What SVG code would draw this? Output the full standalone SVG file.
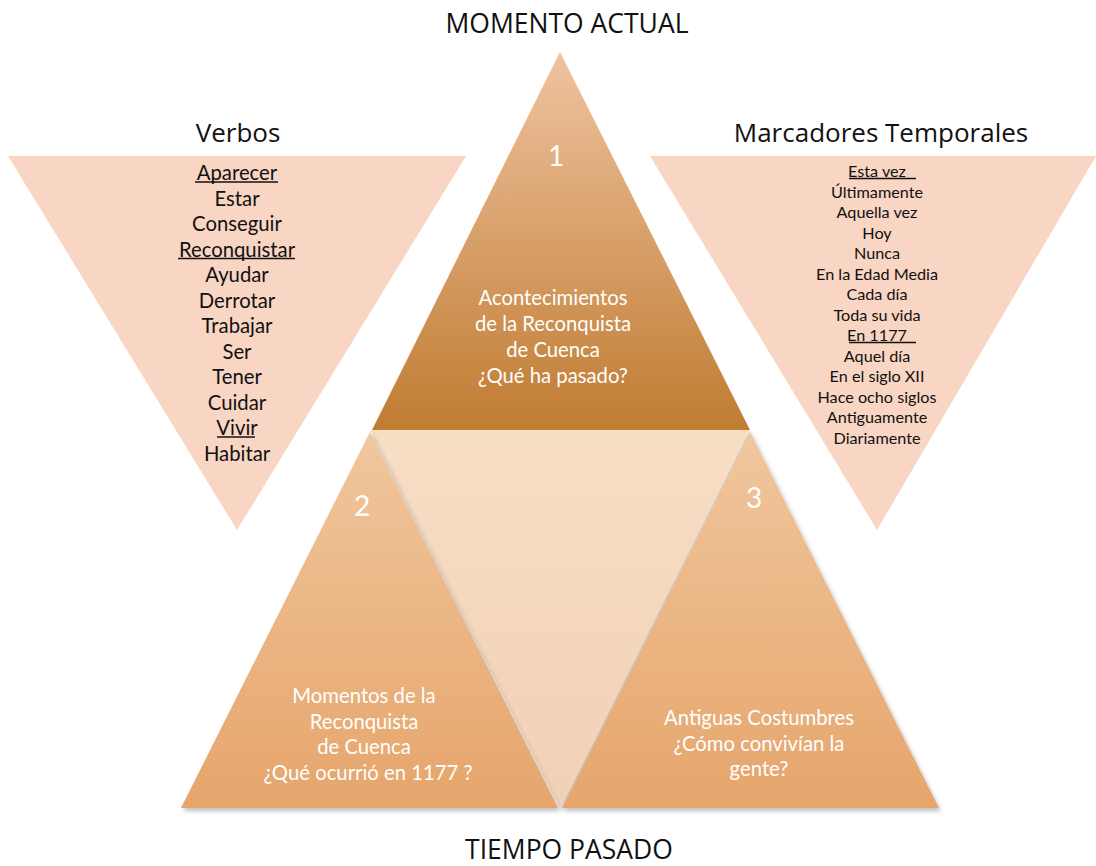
<svg xmlns="http://www.w3.org/2000/svg" width="1096" height="866" viewBox="0 0 1096 866">
<defs>
<linearGradient id="g1" x1="0" y1="0" x2="0" y2="1"><stop offset="0" stop-color="#efc3a0"/><stop offset="1" stop-color="#c07c32"/></linearGradient>
<linearGradient id="g2" x1="0" y1="0" x2="0" y2="1"><stop offset="0" stop-color="#f0c79e"/><stop offset="1" stop-color="#e6a56b"/></linearGradient>
<linearGradient id="gm" x1="0" y1="0" x2="0" y2="1"><stop offset="0" stop-color="#f6dec5"/><stop offset="1" stop-color="#f2d0b6"/></linearGradient>
<filter id="sh" x="-10%" y="-10%" width="120%" height="120%"><feDropShadow dx="2" dy="3" stdDeviation="2" flood-color="#000" flood-opacity="0.25"/></filter>
<style>
.t{font-family:Lato,"Open Sans",sans-serif;text-anchor:middle}
.title{font-family:"Open Sans",sans-serif;font-size:26px;fill:#111}
.cap{font-family:"Open Sans",sans-serif;font-size:26.5px;fill:#111}
.vb{font-size:20.3px;fill:#111}
.mk{font-size:16.2px;fill:#111}
.w{font-size:20.3px;fill:#fff}
.n{font-size:28px;fill:#fff}
.ul{stroke:#111;stroke-width:1.3}
</style>
</defs>
<rect width="1096" height="866" fill="#fff"/>
<g id="verbos">
<polygon points="8,156 466,156 237,530" fill="#f9d5c3"/>
<text class="t title" x="238" y="142">Verbos</text>
<g class="t vb">
<text x="237" y="180">Aparecer</text>
<text x="237" y="205.5">Estar</text>
<text x="237" y="231">Conseguir</text>
<text x="237" y="256.5">Reconquistar</text>
<text x="237" y="282">Ayudar</text>
<text x="237" y="307.5">Derrotar</text>
<text x="237" y="333">Trabajar</text>
<text x="237" y="358.5">Ser</text>
<text x="237" y="384">Tener</text>
<text x="237" y="409.5">Cuidar</text>
<text x="237" y="435">Vivir</text>
<text x="237" y="460.5">Habitar</text>
</g>
<line class="ul" x1="195" y1="182" x2="278" y2="182"/>
<line class="ul" x1="178" y1="258.5" x2="295" y2="258.5"/>
<line class="ul" x1="217" y1="437" x2="255" y2="437"/>
</g>
<g id="marcadores">
<polygon points="650,156 1096,156 877,530" fill="#f9d5c3"/>
<text class="t title" x="881" y="142">Marcadores Temporales</text>
<g class="t mk">
<text x="877" y="177">Esta vez</text>
<text x="877" y="197.5">Últimamente</text>
<text x="877" y="218">Aquella vez</text>
<text x="877" y="238.5">Hoy</text>
<text x="877" y="259">Nunca</text>
<text x="877" y="279.5">En la Edad Media</text>
<text x="877" y="300">Cada día</text>
<text x="877" y="320.5">Toda su vida</text>
<text x="877" y="341">En 1177</text>
<text x="877" y="361.5">Aquel día</text>
<text x="877" y="382">En el siglo XII</text>
<text x="877" y="402.5">Hace ocho siglos</text>
<text x="877" y="423">Antiguamente</text>
<text x="877" y="443.5">Diariamente</text>
</g>
<line class="ul" x1="849" y1="178.5" x2="916" y2="178.5"/>
<line class="ul" x1="849" y1="342.5" x2="916" y2="342.5"/>
</g>
<g id="centro">
<polygon points="370,430 750,430 560,808" fill="url(#gm)" filter="url(#sh)"/>
</g>
<g id="nodo2">
<polygon points="370,432 558,808 181,808" fill="url(#g2)" filter="url(#sh)"/>
<text class="t n" x="362" y="516">2</text>
<g class="t w">
<text x="364" y="703">Momentos de la</text>
<text x="364" y="729">Reconquista</text>
<text x="364" y="754">de Cuenca</text>
<text x="368" y="780">¿Qué ocurrió en 1177 ?</text>
</g>
</g>
<g id="nodo3">
<polygon points="750,432 939,808 562,808" fill="url(#g2)" filter="url(#sh)"/>
<text class="t n" x="754" y="508">3</text>
<g class="t w">
<text x="759" y="725">Antiguas Costumbres</text>
<text x="759" y="750.5">¿Cómo convivían la</text>
<text x="759" y="776">gente?</text>
</g>
</g>
<g id="nodo1">
<polygon points="560,52 750,430 372,430" fill="url(#g1)"/>
<text class="t n" x="556" y="166">1</text>
<g class="t w">
<text x="553" y="305">Acontecimientos</text>
<text x="553" y="331">de la Reconquista</text>
<text x="553" y="357">de Cuenca</text>
<text x="553" y="383">¿Qué ha pasado?</text>
</g>
</g>
<g id="etiquetas">
<text class="t cap" x="567" y="33">MOMENTO ACTUAL</text>
<text class="t cap" x="569" y="859">TIEMPO PASADO</text>
</g>
<g id="connectors"/>
</svg>
